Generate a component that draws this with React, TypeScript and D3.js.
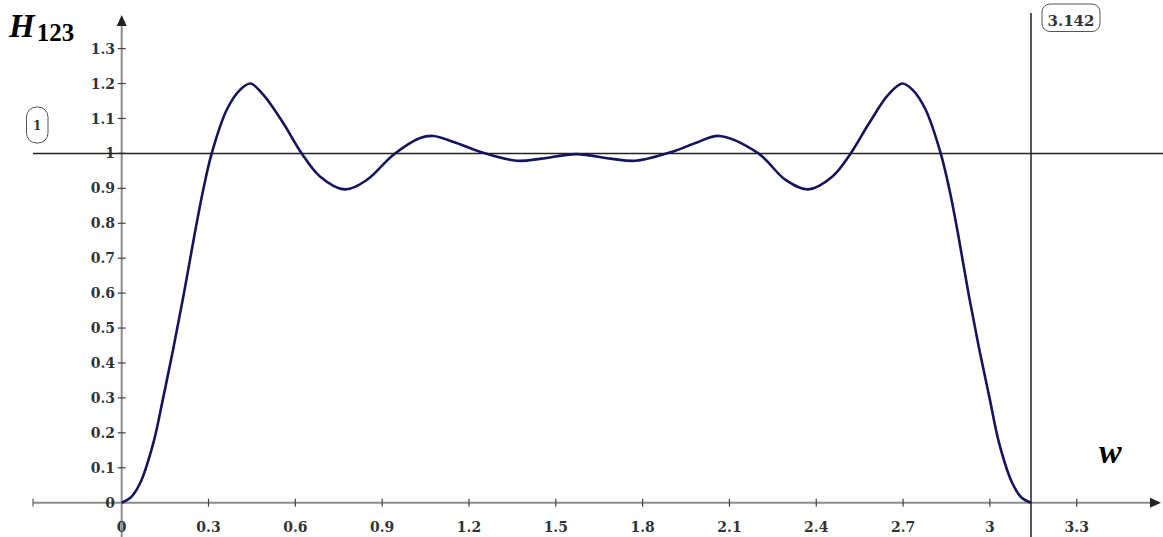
import React from "react";
import * as d3 from "d3";

const wValues = [0, 0.03, 0.063, 0.109, 0.144, 0.178, 0.213, 0.25, 0.281, 0.311, 0.363, 0.409, 0.445, 0.489, 0.558, 0.622, 0.685, 0.77, 0.847, 0.939, 1.031, 1.077, 1.15, 1.238, 1.365, 1.45, 1.571, 1.69, 1.776, 1.903, 1.99, 2.064, 2.2, 2.294, 2.372, 2.456, 2.519, 2.583, 2.649, 2.697, 2.733, 2.778, 2.83, 2.861, 2.892, 2.928, 2.963, 2.998, 3.032, 3.078, 3.11, 3.142];
const hValues = [0, 0.014, 0.055, 0.17, 0.303, 0.44, 0.59, 0.76, 0.893, 1.0, 1.125, 1.182, 1.2, 1.168, 1.087, 1.0, 0.934, 0.897, 0.924, 0.996, 1.044, 1.05, 1.032, 1.005, 0.979, 0.985, 0.998, 0.985, 0.979, 1.005, 1.032, 1.05, 1.0, 0.924, 0.897, 0.934, 1.0, 1.087, 1.168, 1.2, 1.182, 1.125, 1.0, 0.893, 0.76, 0.59, 0.44, 0.303, 0.17, 0.055, 0.014, 0];

const xTicks = [0, 0.3, 0.6, 0.9, 1.2, 1.5, 1.8, 2.1, 2.4, 2.7, 3, 3.3];
const xTickLabels = ["0", "0.3", "0.6", "0.9", "1.2", "1.5", "1.8", "2.1", "2.4", "2.7", "3", "3.3"];
const yTicks = [0, 0.1, 0.2, 0.3, 0.4, 0.5, 0.6, 0.7, 0.8, 0.9, 1, 1.1, 1.2, 1.3];
const yTickLabels = ["0", "0.1", "0.2", "0.3", "0.4", "0.5", "0.6", "0.7", "0.8", "0.9", "1", "1.1", "1.2", "1.3"];
const markerY = 1;
const markerX = 3.142;
const markerYLabel = "1";
const markerXLabel = "3.142";

const W = 1163;
const H = 537;

export default function App() {
  const x = d3.scaleLinear().domain([0, 1]).range([121.7, 121.7 + 289.4]);
  const y = d3.scaleLinear().domain([0, 1]).range([502.7, 502.7 - 349.3]);
  const pts: [number, number][] = wValues.map((w, i) => [w, hValues[i]]);
  const line = d3
    .line<[number, number]>()
    .x((d) => x(d[0]))
    .y((d) => y(d[1]))
    .curve(d3.curveCatmullRom.alpha(0.5));

  const x0 = x(0);
  const y0 = y(0);
  const axisColor = "#8c8c8c";
  const tickColor = "#444";
  const labelFont = "'DejaVu Serif', serif";

  return (
    <svg width={W} height={H} style={{ position: "absolute", left: 0, top: 0, background: "#fff" }}>
      <rect x={0} y={0} width={W} height={H} fill="#fff" />
      {/* axes */}
      <line x1={33} x2={1152} y1={y0} y2={y0} stroke={axisColor} strokeWidth={2} />
      <line x1={33} x2={33} y1={y0 - 4} y2={y0 + 4} stroke={tickColor} strokeWidth={1} />
      <path d={`M1161,${y0} L1150,${y0 - 5} L1150,${y0 + 5} Z`} fill="#222" />
      <line x1={x0} x2={x0} y1={24} y2={537} stroke={axisColor} strokeWidth={2} />
      <path d={`M${x0},15 L${x0 - 5},26 L${x0 + 5},26 Z`} fill="#222" />

      {/* x ticks */}
      {xTicks.map((t, i) => (
        <g key={"xt" + i}>
          {t !== 0 && <line x1={x(t)} x2={x(t)} y1={y0 - 4} y2={y0 + 4} stroke={tickColor} strokeWidth={1.2} />}
          <text
            transform={`translate(${x(t)},532) scale(1,1.12)`}
            textAnchor="middle"
            fontFamily={labelFont}
            fontWeight="bold"
            fontSize={14}
            fill="#333"
          >
            {xTickLabels[i]}
          </text>
        </g>
      ))}

      {/* y ticks */}
      {yTicks.map((t, i) => (
        <g key={"yt" + i}>
          {t !== 0 && <line x1={x0 - 4} x2={x0 + 4} y1={y(t)} y2={y(t)} stroke={tickColor} strokeWidth={1.2} />}
          <text
            x={115}
            y={y(t)}
            dy="0.36em"
            textAnchor="end"
            fontFamily={labelFont}
            fontWeight="bold"
            fontSize={14}
            fill="#333"
          >
            {yTickLabels[i]}
          </text>
        </g>
      ))}

      {/* marker lines */}
      <line x1={33} x2={W} y1={y(markerY)} y2={y(markerY)} stroke="#222" strokeWidth={1.5} />
      <line x1={x(markerX)} x2={x(markerX)} y1={13} y2={H} stroke="#222" strokeWidth={1.5} />

      {/* curve */}
      <path d={line(pts) || ""} fill="none" stroke="#15155e" strokeWidth={2.6} strokeLinejoin="round" />

      {/* marker labels */}
      <rect x={26.5} y={107} width={21.5} height={36} rx={10} ry={10} fill="#fff" stroke="#555" strokeWidth={1} />
      <text x={37.3} y={126} dy="0.36em" textAnchor="middle" fontFamily={labelFont} fontWeight="bold" fontSize={12} fill="#333">
        {markerYLabel}
      </text>
      <rect x={1042} y={4} width={58} height={27.5} rx={8} ry={8} fill="#fff" stroke="#555" strokeWidth={1} />
      <text x={1071} y={21} dy="0.36em" textAnchor="middle" fontFamily={labelFont} fontWeight="bold" fontSize={15} fill="#333">
        {markerXLabel}
      </text>

      {/* axis titles */}
      <text x={9} y={37} fontFamily="'Liberation Serif', serif" fontWeight="bold" fontStyle="italic" fontSize={33} fill="#000">
        H
        <tspan fontStyle="normal" fontSize={25} dy={4} dx={2}>
          123
        </tspan>
      </text>
      <text x={1099} y={463} fontFamily="'Liberation Serif', serif" fontWeight="bold" fontStyle="italic" fontSize={34} fill="#000">
        w
      </text>
    </svg>
  );
}
